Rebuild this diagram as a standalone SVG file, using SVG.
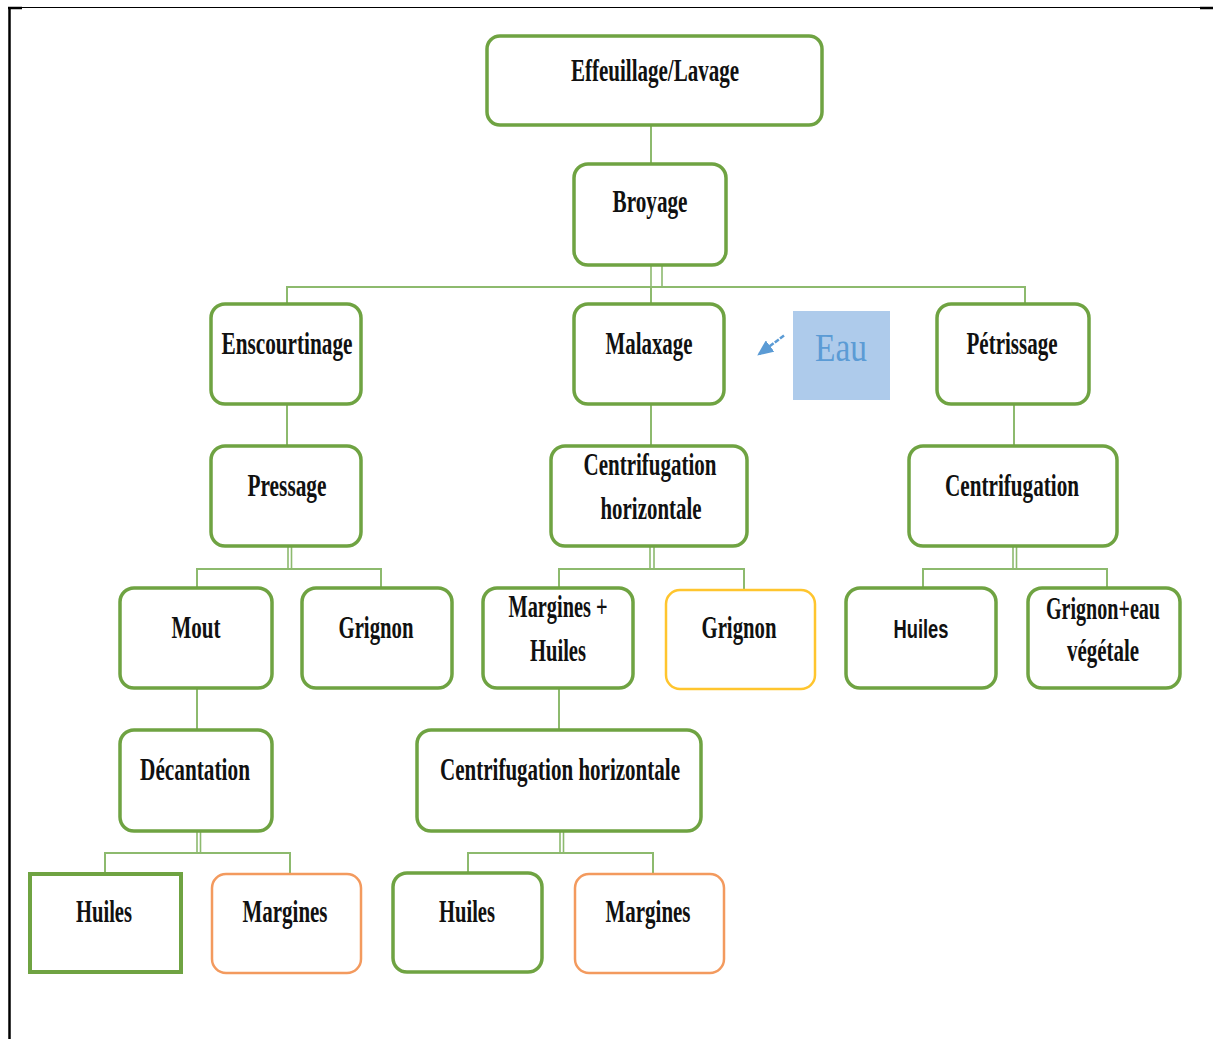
<svg xmlns="http://www.w3.org/2000/svg" width="1213" height="1039" viewBox="0 0 1213 1039">
<style>
.bx{fill:#fff;stroke:#6FA342;stroke-width:3.5}
.yl{fill:#fff;stroke:#FFC52E;stroke-width:2.5}
.or{fill:#fff;stroke:#F39A5E;stroke-width:2.5}
.t{font-family:"Liberation Serif","Times New Roman",serif;font-weight:bold;font-size:31px;fill:#111;text-anchor:middle}
.s{font-family:"Liberation Sans",Arial,sans-serif;font-weight:bold;font-size:26px;fill:#111;text-anchor:middle}
.c{fill:none;stroke:#8DBA6E;stroke-width:2}
.cd{fill:#fff;stroke:#8DBA6E;stroke-width:1.6}
</style>
<defs>
<marker id="ah" markerWidth="16" markerHeight="14" refX="15" refY="7" orient="auto" markerUnits="userSpaceOnUse">
<path d="M0,0 L16,7 L0,14 Z" fill="#5B9BD5"/>
</marker>
</defs>
<rect x="0" y="0" width="1213" height="1039" fill="#fff"/>
<g id="frame">
<line x1="8" y1="7.5" x2="1213" y2="7.5" stroke="#000" stroke-width="1.2"/>
<line x1="8" y1="8" x2="22" y2="8" stroke="#000" stroke-width="2.5"/>
<line x1="1200" y1="8" x2="1213" y2="8" stroke="#000" stroke-width="2.5"/>
<line x1="9.5" y1="7" x2="9.5" y2="1039" stroke="#000" stroke-width="2.5"/>
</g>
<g id="connectors">
<line class="c" x1="651" y1="125" x2="651" y2="164"/>
<rect class="cd" x="651" y="265" width="11" height="22"/>
<polyline class="c" points="287,304 287,287 1025,287 1025,304"/>
<line class="c" x1="651" y1="287" x2="651" y2="304"/>
<line class="c" x1="287" y1="404" x2="287" y2="446"/>
<line class="c" x1="651" y1="404" x2="651" y2="446"/>
<line class="c" x1="1014" y1="404" x2="1014" y2="446"/>
<rect class="cd" x="288" y="546" width="3.5" height="23"/>
<polyline class="c" points="197,588 197,569 381,569 381,588"/>
<rect class="cd" x="650" y="546" width="4" height="23"/>
<polyline class="c" points="559,588 559,569 744,569 744,590"/>
<rect class="cd" x="1013" y="546" width="3.5" height="23"/>
<polyline class="c" points="923,588 923,569 1107,569 1107,588"/>
<line class="c" x1="197" y1="688" x2="197" y2="730"/>
<line class="c" x1="559" y1="688" x2="559" y2="730"/>
<rect class="cd" x="197" y="831" width="3.5" height="22"/>
<polyline class="c" points="105,873 105,853 290,853 290,874"/>
<rect class="cd" x="560" y="831" width="3.5" height="22"/>
<polyline class="c" points="468,873 468,853 653,853 653,874"/>
<line x1="784" y1="335.5" x2="758" y2="355" stroke="#5B9BD5" stroke-width="2.5" stroke-dasharray="5,1.5" marker-end="url(#ah)"/>
</g>
<g id="n-effeuillage"><rect class="bx" x="487" y="36" width="335" height="89" rx="13"/><text class="t" x="655" y="81" textLength="168" lengthAdjust="spacingAndGlyphs">Effeuillage/Lavage</text></g>
<g id="n-broyage"><rect class="bx" x="574" y="164" width="152" height="101" rx="14"/><text class="t" x="650" y="212" textLength="75" lengthAdjust="spacingAndGlyphs">Broyage</text></g>
<g id="n-enscourtinage"><rect class="bx" x="211" y="304" width="150" height="100" rx="14"/><text class="t" x="287" y="354" textLength="131" lengthAdjust="spacingAndGlyphs">Enscourtinage</text></g>
<g id="n-malaxage"><rect class="bx" x="574" y="304" width="150" height="100" rx="14"/><text class="t" x="649" y="354" textLength="87" lengthAdjust="spacingAndGlyphs">Malaxage</text></g>
<g id="n-eau"><rect x="793" y="311" width="97" height="89" fill="#AECBEB"/><text x="841" y="361" font-family="Liberation Serif,serif" font-size="40" fill="#5B9BD5" text-anchor="middle" textLength="52" lengthAdjust="spacingAndGlyphs">Eau</text></g>
<g id="n-petrissage"><rect class="bx" x="937" y="304" width="152" height="100" rx="14"/><text class="t" x="1012" y="354" textLength="91" lengthAdjust="spacingAndGlyphs">Pétrissage</text></g>
<g id="n-pressage"><rect class="bx" x="211" y="446" width="150" height="100" rx="14"/><text class="t" x="287" y="496" textLength="79" lengthAdjust="spacingAndGlyphs">Pressage</text></g>
<g id="n-centri-h1"><rect class="bx" x="551" y="446" width="196" height="100" rx="14"/><text class="t" x="650" y="475" textLength="133" lengthAdjust="spacingAndGlyphs">Centrifugation</text><text class="t" x="651" y="519" textLength="101" lengthAdjust="spacingAndGlyphs">horizontale</text></g>
<g id="n-centri"><rect class="bx" x="909" y="446" width="208" height="100" rx="14"/><text class="t" x="1012" y="496" textLength="134" lengthAdjust="spacingAndGlyphs">Centrifugation</text></g>
<g id="n-mout"><rect class="bx" x="120" y="588" width="152" height="100" rx="14"/><text class="t" x="196" y="638" textLength="49" lengthAdjust="spacingAndGlyphs">Mout</text></g>
<g id="n-grignon1"><rect class="bx" x="302" y="588" width="150" height="100" rx="14"/><text class="t" x="376" y="638" textLength="75" lengthAdjust="spacingAndGlyphs">Grignon</text></g>
<g id="n-margines-huiles"><rect class="bx" x="483" y="588" width="150" height="100" rx="14"/><text class="t" x="558" y="617" textLength="99" lengthAdjust="spacingAndGlyphs">Margines +</text><text class="t" x="558" y="661" textLength="56" lengthAdjust="spacingAndGlyphs">Huiles</text></g>
<g id="n-grignon2"><rect class="yl" x="666" y="590" width="149" height="99" rx="14"/><text class="t" x="739" y="638" textLength="75" lengthAdjust="spacingAndGlyphs">Grignon</text></g>
<g id="n-huiles-r"><rect class="bx" x="846" y="588" width="150" height="100" rx="14"/><text class="s" x="921" y="638" textLength="55" lengthAdjust="spacingAndGlyphs">Huiles</text></g>
<g id="n-grignon-eau"><rect class="bx" x="1028" y="588" width="152" height="100" rx="14"/><text class="t" x="1103" y="619" font-size="29" textLength="114" lengthAdjust="spacingAndGlyphs">Grignon+eau</text><text class="t" x="1103" y="661" textLength="72" lengthAdjust="spacingAndGlyphs">végétale</text></g>
<g id="n-decantation"><rect class="bx" x="120" y="730" width="152" height="101" rx="14"/><text class="t" x="195" y="780" textLength="110" lengthAdjust="spacingAndGlyphs">Décantation</text></g>
<g id="n-centri-h2"><rect class="bx" x="417" y="730" width="284" height="101" rx="14"/><text class="t" x="560" y="780" textLength="240" lengthAdjust="spacingAndGlyphs">Centrifugation horizontale</text></g>
<g id="n-huiles1"><rect x="30" y="874" width="151" height="98" fill="#fff" stroke="#6FA342" stroke-width="4"/><text class="t" x="104" y="922" textLength="56" lengthAdjust="spacingAndGlyphs">Huiles</text></g>
<g id="n-margines1"><rect class="or" x="212" y="874" width="149" height="99" rx="14"/><text class="t" x="285" y="922" textLength="85" lengthAdjust="spacingAndGlyphs">Margines</text></g>
<g id="n-huiles2"><rect class="bx" x="393" y="873" width="149" height="99" rx="14"/><text class="t" x="467" y="922" textLength="56" lengthAdjust="spacingAndGlyphs">Huiles</text></g>
<g id="n-margines2"><rect class="or" x="575" y="874" width="149" height="99" rx="14"/><text class="t" x="648" y="922" textLength="85" lengthAdjust="spacingAndGlyphs">Margines</text></g>
</svg>
